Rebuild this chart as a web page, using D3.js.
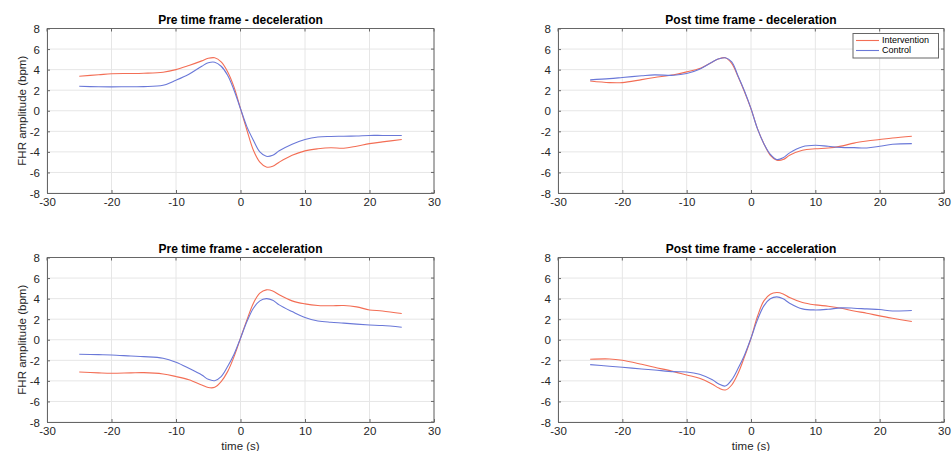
<!DOCTYPE html>
<html><head><meta charset="utf-8">
<script src="https://cdn.jsdelivr.net/npm/d3@7"></script>
<style>
body{margin:0;background:#fff;}
svg{display:block;font-family:"Liberation Sans",Arial,Helvetica,sans-serif;}
</style></head>
<body>
<svg id="c" width="952" height="451"></svg>
<script>
const time = [-25,-22,-20,-17,-15,-12,-10,-8,-6,-5,-4,-3,-2,-1,0,1,2,3,4,5,6,8,10,12,14,16,18,20,22,25];
const titles = ["Pre time frame - deceleration","Post time frame - deceleration","Pre time frame - acceleration","Post time frame - acceleration"];
const seriesNames = ["Intervention","Control"];
const xTicks = [-30,-20,-10,0,10,20,30];
const yTicks = [-8,-6,-4,-2,0,2,4,6,8];

const preDecelIntervention = [3.36,3.5,3.6,3.62,3.65,3.75,4.0,4.4,4.85,5.1,5.15,4.75,3.8,2.3,0.2,-1.9,-3.85,-5.0,-5.47,-5.4,-5.0,-4.33,-3.9,-3.7,-3.6,-3.65,-3.45,-3.2,-3.03,-2.8];
const preDecelControl      = [2.38,2.33,2.32,2.34,2.35,2.48,2.97,3.55,4.33,4.66,4.72,4.33,3.46,2.0,0.2,-1.57,-2.87,-4.0,-4.43,-4.33,-3.9,-3.26,-2.8,-2.55,-2.5,-2.48,-2.45,-2.4,-2.4,-2.4];
const postDecelIntervention= [2.9,2.74,2.74,3.03,3.23,3.5,3.78,4.1,4.75,5.05,5.15,4.6,3.3,1.83,0.2,-1.74,-3.2,-4.33,-4.8,-4.75,-4.33,-3.85,-3.7,-3.63,-3.44,-3.15,-2.95,-2.8,-2.65,-2.48];
const postDecelControl     = [3.0,3.12,3.23,3.4,3.49,3.45,3.62,4.04,4.75,5.05,5.15,4.75,3.36,1.9,0.2,-1.74,-3.2,-4.23,-4.75,-4.58,-4.1,-3.5,-3.36,-3.46,-3.56,-3.59,-3.62,-3.46,-3.26,-3.2];
const preAccelIntervention = [-3.13,-3.22,-3.26,-3.22,-3.2,-3.33,-3.58,-3.9,-4.4,-4.65,-4.63,-4.07,-3.1,-1.64,0.15,1.93,3.56,4.53,4.85,4.75,4.37,3.78,3.49,3.33,3.3,3.33,3.2,2.9,2.8,2.55];
const preAccelControl      = [-1.41,-1.45,-1.48,-1.58,-1.64,-1.8,-2.19,-2.78,-3.43,-3.85,-3.98,-3.59,-2.61,-1.41,0.15,1.77,3.07,3.78,4.0,3.85,3.39,2.74,2.16,1.83,1.7,1.62,1.52,1.44,1.38,1.22];
const postAccelIntervention= [-1.9,-1.87,-2.0,-2.39,-2.68,-3.1,-3.43,-3.75,-4.33,-4.7,-4.89,-4.4,-3.26,-1.64,0.15,2.26,3.78,4.43,4.59,4.46,4.1,3.62,3.39,3.26,3.07,2.8,2.58,2.32,2.09,1.77];
const postAccelControl     = [-2.42,-2.58,-2.68,-2.84,-2.94,-3.1,-3.13,-3.36,-3.9,-4.3,-4.5,-3.9,-2.78,-1.48,0.15,1.93,3.3,3.98,4.17,3.98,3.56,3.0,2.9,2.97,3.1,3.07,3.0,2.94,2.8,2.84];

const panelsData = [
  [preDecelIntervention, preDecelControl],
  [postDecelIntervention, postDecelControl],
  [preAccelIntervention, preAccelControl],
  [postAccelIntervention, postAccelControl]
];
const colors = ["#f36e55","#6a78d8"];

const boxes = [
  {x0:47, x1:434, y0:28.5, y1:193},
  {x0:558, x1:944, y0:28.5, y1:193},
  {x0:47, x1:434, y0:257.5, y1:422},
  {x0:558, x1:944, y0:257.5, y1:422}
];

const svg = d3.select("#c");
const fmt = d => String(d);

panelsData.forEach((pd, i) => {
  const b = boxes[i];
  const x = d3.scaleLinear().domain([-30,30]).range([b.x0,b.x1]);
  const y = d3.scaleLinear().domain([-8,8]).range([b.y1,b.y0]);
  const g = svg.append("g");
  g.selectAll(".gx").data(xTicks).enter().append("line")
    .attr("x1",d=>x(d)).attr("x2",d=>x(d)).attr("y1",b.y0).attr("y2",b.y1)
    .attr("stroke","#e6e6e6").attr("stroke-width",1);
  g.selectAll(".gy").data(yTicks).enter().append("line")
    .attr("y1",d=>y(d)).attr("y2",d=>y(d)).attr("x1",b.x0).attr("x2",b.x1)
    .attr("stroke","#e6e6e6").attr("stroke-width",1);
  const xa = g.append("g").attr("transform",`translate(0,${b.y1})`)
    .call(d3.axisBottom(x).tickValues(xTicks).tickFormat(fmt).tickSizeInner(-3).tickSizeOuter(0).tickPadding(5));
  const ya = g.append("g").attr("transform",`translate(${b.x0},0)`)
    .call(d3.axisLeft(y).tickValues(yTicks).tickFormat(fmt).tickSizeInner(-3).tickSizeOuter(0).tickPadding(7));
  [xa,ya].forEach(a=>{
    a.select(".domain").attr("stroke","#666");
    a.selectAll(".tick line").attr("stroke","#666");
    a.selectAll("text").attr("fill","#262626").style("font-size","11.5px")
      .style("font-family","'Liberation Sans',Arial,sans-serif");
  });
  xa.selectAll(".tick text").attr("y", 5).attr("dy","0.71em");
  ya.selectAll(".tick text").attr("dy","0.35em");
  g.append("line").attr("x1",b.x0).attr("x2",b.x1).attr("y1",b.y0).attr("y2",b.y0).attr("stroke","#666");
  g.append("line").attr("x1",b.x1).attr("x2",b.x1).attr("y1",b.y0).attr("y2",b.y1).attr("stroke","#666");
  g.selectAll(".tt").data(xTicks).enter().append("line")
    .attr("x1",d=>x(d)).attr("x2",d=>x(d)).attr("y1",b.y0).attr("y2",b.y0+3).attr("stroke","#666");
  g.selectAll(".rt").data(yTicks).enter().append("line")
    .attr("y1",d=>y(d)).attr("y2",d=>y(d)).attr("x1",b.x1).attr("x2",b.x1-3).attr("stroke","#666");
  const line = d3.line().x((d,k)=>x(time[k])).y(d=>y(d)).curve(d3.curveCatmullRom.alpha(0.5));
  pd.forEach((s,j)=>{
    g.append("path").datum(s).attr("d",line).attr("fill","none")
      .attr("stroke",colors[j]).attr("stroke-width",1.1);
  });
  g.append("text").attr("x",(b.x0+b.x1)/2).attr("y",b.y0-5)
    .attr("text-anchor","middle").attr("font-weight","bold").attr("font-size","12px")
    .attr("fill","#000").text(titles[i]);
  if (i%2===0) {
    g.append("text").attr("transform",`translate(26,${(b.y0+b.y1)/2}) rotate(-90)`)
      .attr("text-anchor","middle").attr("font-size","11.5px").attr("fill","#262626")
      .text("FHR amplitude (bpm)");
  }
  if (i>=2) {
    g.append("text").attr("x",(b.x0+b.x1)/2).attr("y",450)
      .attr("text-anchor","middle").attr("font-size","11.5px").attr("fill","#262626")
      .text("time (s)");
  }
  if (i===1) {
    const lg = g.append("g");
    lg.append("rect").attr("x",853).attr("y",33.5).attr("width",85.5).attr("height",24.5)
      .attr("fill","#fff").attr("stroke","#666").attr("stroke-width",1);
    seriesNames.forEach((n,j)=>{
      const yy = 40.5 + j*10;
      lg.append("line").attr("x1",856).attr("x2",879).attr("y1",yy).attr("y2",yy)
        .attr("stroke",colors[j]).attr("stroke-width",1.1);
      lg.append("text").attr("x",882).attr("y",yy).attr("dy","0.33em")
        .attr("font-size","9px").attr("fill","#000").text(n);
    });
  }
});
</script>
</body></html>
